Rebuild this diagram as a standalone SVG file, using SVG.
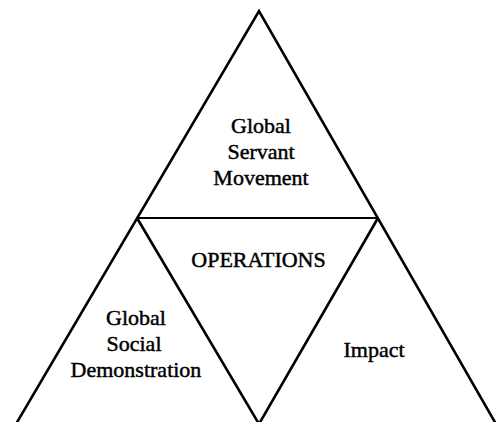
<svg xmlns="http://www.w3.org/2000/svg" width="498" height="422" viewBox="0 0 498 422">
  <style>
    .edge { fill: none; stroke: #000; stroke-width: 2.6; stroke-linejoin: miter; stroke-linecap: butt; }
    .thin { stroke-width: 2.2; }
    .label { font-family: "Liberation Serif", "Times New Roman", serif; font-size: 22px; fill: #000; stroke: #000; stroke-width: 0.45; text-anchor: middle; }
  </style>
  <rect width="498" height="422" fill="#fff"/>
  <g id="connectors">
    <!-- outer triangle -->
    <polyline class="edge" points="16,424 259,11 496,424"/>
    <!-- inner dividing triangle -->
    <line class="edge thin" x1="137" y1="218" x2="378" y2="218"/>
    <polyline class="edge" points="137,218 259,424 378,218"/>
  </g>
  <g id="servant-movement">
    <text class="label" x="261" y="133">Global</text>
    <text class="label" x="261" y="159">Servant</text>
    <text class="label" x="261" y="185">Movement</text>
  </g>
  <g id="operations">
    <text class="label" x="258.5" y="267">OPERATIONS</text>
  </g>
  <g id="social-demonstration">
    <text class="label" x="136" y="325">Global</text>
    <text class="label" x="134" y="351">Social</text>
    <text class="label" x="136" y="377">Demonstration</text>
  </g>
  <g id="impact">
    <text class="label" x="374" y="357">Impact</text>
  </g>
</svg>
